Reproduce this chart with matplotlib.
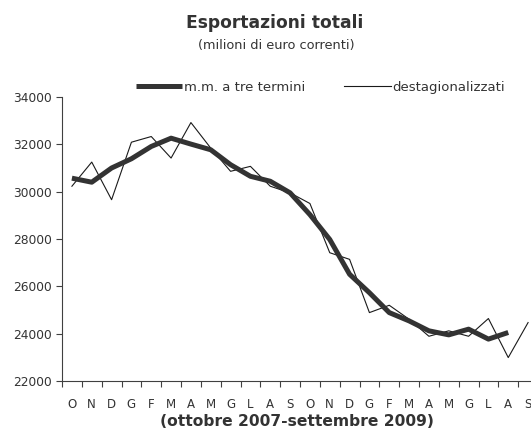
import matplotlib
matplotlib.use("Agg")
import matplotlib.pyplot as plt
from matplotlib.ticker import FixedLocator, NullFormatter

plt.rcParams['font.family'] = ['DejaVu Sans']

months = ["O", "N", "D", "G", "F", "M", "A", "M", "G", "L", "A", "S",
          "O", "N", "D", "G", "F", "M", "A", "M", "G", "L", "A", "S"]

# destagionalizzati (seasonally adjusted), Oct 2007 - Sep 2009
destag = [30230, 31250, 29660, 32090, 32330, 31420, 32920, 31840, 30860, 31070,
          30230, 29950, 29500, 27420, 27140, 24890, 25200, 24610, 23890, 24120,
          23890, 24640, 22990, 24470]

# m.m. a tre termini (three-term moving average), last month not available
mm3 = [30570, 30400, 31000, 31390, 31910, 32260, 32010, 31770, 31140, 30650,
       30440, 29950, 29030, 27980, 26510, 25730, 24890, 24540, 24120, 23950,
       24190, 23770, 24050]

yticks = [22000, 24000, 26000, 28000, 30000, 32000, 34000]

W, H = 531, 430
fig = plt.figure(figsize=(W / 100, H / 100), dpi=100)
left_px, right_px, top_px, bot_px = 62, 538, 97, 381
ax = fig.add_axes([left_px / W, 1 - bot_px / H, (right_px - left_px) / W,
                   (bot_px - top_px) / H])

txt = "#333333"
x_all = list(range(len(destag)))
x_mm = list(range(len(mm3)))

ax.plot(x_mm, mm3, color="#333333", lw=3.6, solid_capstyle="butt",
        solid_joinstyle="round", label="m.m. a tre termini", zorder=3)
ax.plot(x_all, destag, color="#1a1a1a", lw=0.8, label="destagionalizzati",
        zorder=2)

ax.set_xlim(-0.5, len(months) - 0.5)
ax.set_ylim(yticks[0], yticks[-1])
ax.set_yticks(yticks)
ax.set_yticklabels([str(v) for v in yticks])

ax.set_xticks(range(len(months)))
ax.set_xticklabels(months)
ax.xaxis.set_minor_locator(FixedLocator([i - 0.5 for i in range(len(months) + 1)]))
ax.xaxis.set_minor_formatter(NullFormatter())
ax.tick_params(axis="x", which="major", length=0, pad=12, labelsize=8.5,
               colors=txt)
ax.tick_params(axis="x", which="minor", length=4, width=0.8, color="#404040",
               direction="out")
ax.tick_params(axis="y", length=4, width=0.8, color="#404040", pad=3,
               labelsize=8.8, labelcolor=txt, direction="out")

for s in ("top", "right"):
    ax.spines[s].set_visible(False)
for s in ("left", "bottom"):
    ax.spines[s].set_color("#404040")
    ax.spines[s].set_linewidth(0.8)

leg = ax.legend(ncol=2, loc="center", bbox_to_anchor=(0.543, 1.035),
                frameon=False, fontsize=9.5, handlelength=3.55,
                handletextpad=0.15, columnspacing=2.9, borderpad=0,
                borderaxespad=0)
for t in leg.get_texts():
    t.set_color(txt)

fig.text(275 / W, 1 - 23 / H, "Esportazioni totali", ha="center", va="center",
         fontsize=12.3, fontweight="bold", color=txt)
fig.text(276 / W, 1 - 46 / H, "(milioni di euro correnti)", ha="center",
         va="center", fontsize=9.3, color=txt)
fig.text(297.5 / W, 1 - 421 / H, "(ottobre 2007-settembre 2009)", ha="center",
         va="center", fontsize=11.2, fontweight="bold", color=txt)

fig.savefig("out.png", dpi=100)
